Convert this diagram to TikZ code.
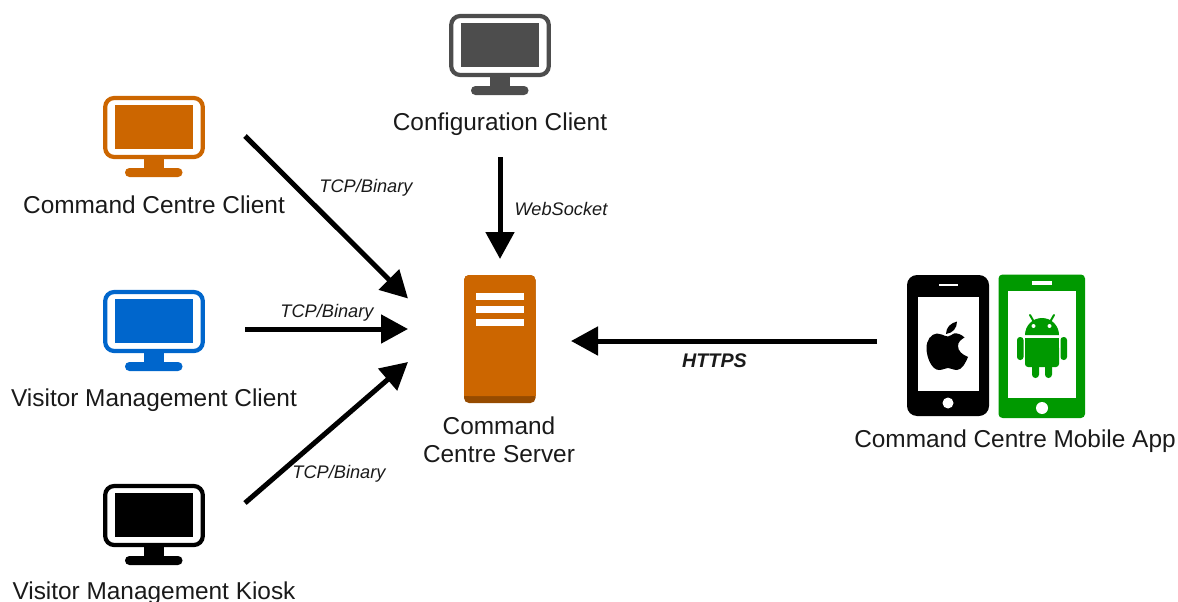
\documentclass[tikz,border=0pt]{standalone}
\usepackage{fontspec}
\setmainfont{Liberation Sans}
\usetikzlibrary{arrows.meta}
\definecolor{ccorange}{HTML}{CC6600}
\definecolor{ccdark}{HTML}{964B00}
\definecolor{ccblue}{HTML}{0066CC}
\definecolor{ccgrey}{HTML}{4D4D4D}
\definecolor{ccgreen}{HTML}{009900}
\definecolor{cctext}{HTML}{1A1A1A}
\tikzset{
  lbl/.style={font=\fontsize{24.4}{28}\selectfont,text=cctext,inner sep=0pt,align=center},
  proto/.style={font=\fontsize{18.2}{22}\selectfont\itshape,text=cctext,inner sep=0pt},
  link/.style={line width=5pt,-{Triangle[length=27pt,width=28pt]}},
  monitor/.pic={
    \draw[line width=4.2pt,draw=#1,fill=white,rounded corners=9pt] (-48.8,2) rectangle (48.8,61);
    \fill[#1] (-39,9) rectangle (39,53);
    \fill[#1] (-10,62) rectangle (10,74);
    \fill[#1,rounded corners=4.4pt] (-29,72) rectangle (28.5,81);
  }
}
\begin{document}
\begin{tikzpicture}[x=1pt,y=-1pt]
\useasboundingbox (0,0) rectangle (1178,602);
\pic at (500,14) {monitor=ccgrey};
\pic at (154,96) {monitor=ccorange};
\pic at (154,290) {monitor=ccblue};
\pic at (154,484) {monitor=black};
\node[lbl] (cfg) at (500,124.5) {Configuration Client};
\node[lbl] (ccc) at (154,205) {Command Centre Client};
\node[lbl] (vmc) at (154,400.5) {Visitor Management Client};
\node[lbl] (vmk) at (154,593) {Visitor Management Kiosk};
\node[lbl] (srv) at (499,440) {Command\\[-0.5pt]Centre Server};
\node[lbl] (app) at (1015,441.5) {Command Centre Mobile App};
\fill[ccdark,rounded corners=5pt] (464,275) rectangle (535.5,403);
\fill[ccorange,rounded corners=5pt] (464,275) rectangle (535.5,396);
\fill[ccorange] (464,300) rectangle (535.5,396);
\fill[white] (476,293) rectangle (524,300);
\fill[white] (476,306) rectangle (524,313);
\fill[white] (476,319) rectangle (524,326);
\fill[black,rounded corners=10pt] (907,275) rectangle (989,416);
\fill[white] (917.5,297) rectangle (979,391);
\fill[white] (939,283.5) rectangle (958,286);
\fill[white] (948,403) circle (5.5);
\fill[black] (948,336.5) .. controls (943,336) and (941,333) .. (937,333.5)
  .. controls (931,334) and (926.5,340) .. (926.5,348)
  .. controls (926.5,358) and (932,370) .. (939,370)
  .. controls (943,370) and (945,368) .. (948,368)
  .. controls (951,368) and (953,370) .. (957,370)
  .. controls (962,370) and (966,362) .. (968,357)
  .. controls (962,354.5) and (958,351) .. (958,346)
  .. controls (958,342) and (961,339.5) .. (964.5,337.5)
  .. controls (961,334) and (957,333) .. (954,333.5)
  .. controls (952,334) and (950,336.5) .. (948,336.5) -- cycle;
\fill[black] (946,334) .. controls (946,327) and (951,323) .. (957,321.5)
  .. controls (957,328) and (953,333) .. (946,334) -- cycle;
\fill[ccgreen,rounded corners=4pt] (998.5,274.5) rectangle (1085,418);
\fill[white] (1008,291) rectangle (1076,398);
\fill[white] (1032,280.5) rectangle (1052,285);
\fill[white] (1042,408) circle (6);
\fill[ccgreen] (1025,335) arc[start angle=180,end angle=360,radius=17] -- cycle;
\draw[ccgreen,line width=2pt,line cap=round] (1034,322) -- (1030,315) (1050,322) -- (1054,315);
\fill[white] (1033.5,326) circle (2) (1049.5,326) circle (2);
\fill[ccgreen,rounded corners=3pt] (1025,345) -- (1025,367) -- (1059,367) -- (1059,345) -- cycle;
\fill[ccgreen] (1025,337.5) rectangle (1059,350);
\fill[ccgreen,rounded corners=3pt] (1017,337) rectangle (1023.5,360);
\fill[ccgreen,rounded corners=3pt] (1060.5,337) rectangle (1067,360);
\fill[ccgreen,rounded corners=3.4pt] (1032,360) rectangle (1039,378);
\fill[ccgreen,rounded corners=3.4pt] (1045,360) rectangle (1052,378);
\coordinate (a1s) at (245,136);
\coordinate (a1e) at (408,298.5);
\coordinate (a2s) at (245,329);
\coordinate (a2e) at (408,329);
\coordinate (a3s) at (245,503);
\coordinate (a3e) at (408,362);
\coordinate (a4s) at (500,157);
\coordinate (a4e) at (500,259);
\coordinate (a5s) at (877,341);
\coordinate (a5e) at (571,341);
\draw[link] (a1s) -- (a1e);
\draw[link] (a2s) -- (a2e);
\draw[link] (a3s) -- (a3e);
\draw[link] (a4s) -- (a4e);
\draw[link] (a5s) -- (a5e);
\node[proto] (p1) at (366,187.5) {TCP/Binary};
\node[proto] (p2) at (327,312.5) {TCP/Binary};
\node[proto] (p3) at (339,473.5) {TCP/Binary};
\node[proto] (p4) at (561,208.5) {WebSocket};
\node[proto,font=\fontsize{19.7}{22}\selectfont\itshape\bfseries] (p5) at (714.5,361) {HTTPS};
\end{tikzpicture}
\end{document}
